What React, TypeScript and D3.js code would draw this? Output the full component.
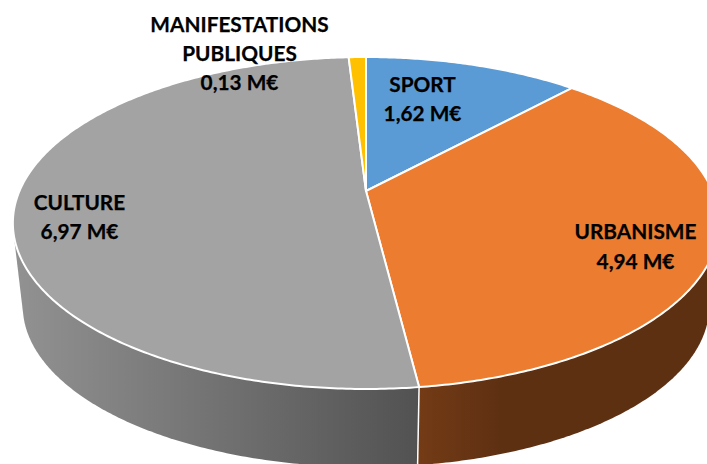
import React from "react";
import * as d3 from "d3";

const categories = ["SPORT", "URBANISME", "CULTURE", "MANIFESTATIONS PUBLIQUES"];
const values = [1.62, 4.94, 6.97, 0.13];
const valueLabels = ["1,62 M€", "4,94 M€", "6,97 M€", "0,13 M€"];
const topColors = ["#5B9BD5", "#EB7C30", "#A3A3A3", "#FFC000"];
const labelLines = [["SPORT"], ["URBANISME"], ["CULTURE"], ["MANIFESTATIONS", "PUBLIQUES"]];
const labelAnchors: [number, number][] = [[422.5, 86.5], [635.5, 234], [79.5, 204.5], [239.5, 26.5]];

const W = 707, H = 464;
const apexX = 366, apexY = 191;
const radiusX = 346.5, radiusY = 159.8, persp = 0.1928;
const depth = 84, depthScaleX = 0.972, depthScaleY = 0.97;

function project(angle: number, level: number): [number, number] {
  const u = Math.sin(angle), v = -Math.cos(angle);
  const d = 1 - persp * v;
  const fx = level === 0 ? 1 : depthScaleX;
  const fy = level === 0 ? 1 : depthScaleY;
  return [apexX + (fx * radiusX * u) / d, apexY + (level === 0 ? 0 : depth) + (fy * radiusY * v) / d];
}

function arcPoints(a0: number, a1: number, level: number): [number, number][] {
  const n = Math.max(2, Math.ceil(Math.abs(a1 - a0) / 0.01));
  return d3.range(n + 1).map((i) => project(a0 + ((a1 - a0) * i) / n, level));
}

const line = d3.line();
const pieLayout = d3.pie<number>().sort(null).startAngle(0).endAngle(2 * Math.PI);

export default function App() {
  const arcs = pieLayout(values);
  const urb = arcs[1];
  const cul = arcs[2];
  const brownHull = d3.polygonHull([
    ...arcPoints(Math.PI / 3, urb.endAngle, 0),
    ...arcPoints(Math.PI / 3, urb.endAngle, 1),
  ])!;
  const greyHull = d3.polygonHull([
    ...arcPoints(cul.startAngle, (5 * Math.PI) / 3, 0),
    ...arcPoints(cul.startAngle, (5 * Math.PI) / 3, 1),
  ])!;
  const divTop = project(urb.endAngle, 0);
  const divBottom = project(urb.endAngle, 1);
  return (
    <svg
      width={W}
      height={H}
      viewBox={`0 0 ${W} ${H}`}
      style={{ position: "absolute", left: 0, top: 0, background: "#fff" }}
      fontFamily="Lato, 'Open Sans', sans-serif"
    >
      <defs>
        <linearGradient id="greySide" gradientUnits="userSpaceOnUse" x1={14} y1={0} x2={418} y2={0}>
          <stop offset="0" stopColor="#929292" />
          <stop offset="1" stopColor="#525252" />
        </linearGradient>
        <linearGradient id="brownSide" gradientUnits="userSpaceOnUse" x1={418} y1={0} x2={500} y2={0}>
          <stop offset="0" stopColor="#743b16" />
          <stop offset="1" stopColor="#5e3012" />
        </linearGradient>
      </defs>
      <path d={`${line(brownHull)}Z`} fill="url(#brownSide)" />
      <path d={`${line(greyHull)}Z`} fill="url(#greySide)" />
      <path d={line([divTop, divBottom])!} fill="none" stroke="#fff" strokeWidth={1.5} />
      {arcs.map((a, i) => {
        const pts: [number, number][] = [[apexX, apexY], ...arcPoints(a.startAngle, a.endAngle, 0)];
        return <path key={categories[i]} d={`${line(pts)}Z`} fill={topColors[i]} stroke="#fff" strokeWidth={2} strokeLinejoin="round" />;
      })}
      {categories.map((c, i) => {
        const rows = [...labelLines[i], valueLabels[i]];
        const [x, y] = labelAnchors[i];
        return (
          <text key={`label-${c}`} textAnchor="middle" fontSize={20.8} fontWeight={700} fill="#000" stroke="#000" strokeWidth={0.25}>
            {rows.map((r, j) => (
              <tspan key={j} x={x} y={y + j * 29.2} dominantBaseline="middle">{r}</tspan>
            ))}
          </text>
        );
      })}
    </svg>
  );
}
